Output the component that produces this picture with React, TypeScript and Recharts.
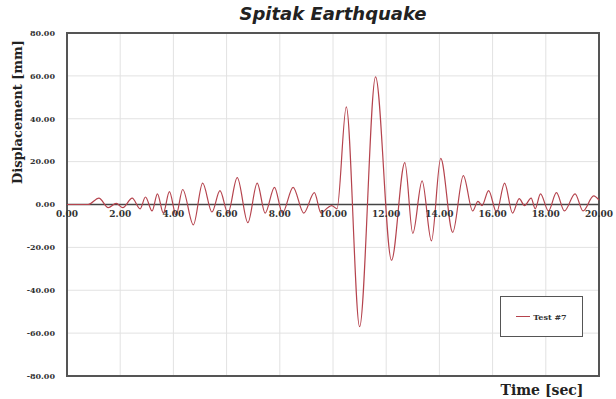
import { LineChart, Line, XAxis, YAxis, CartesianGrid, ReferenceLine, ReferenceArea } from 'recharts';

const TIME = [
  0, 0.8, 1.2, 1.55, 1.85, 2.1, 2.45, 2.75, 2.95, 3.2, 3.4, 3.62, 3.85, 4.1, 4.35, 4.75,
  5.1, 5.45, 5.75, 6.05, 6.4, 6.8, 7.15, 7.45, 7.8, 8.1, 8.5, 8.9, 9.3, 9.55, 9.8, 9.95, 10.15,
  10.5, 11.0, 11.6, 12.2, 12.7, 13.0, 13.35, 13.7, 14.05, 14.5, 14.9, 15.25, 15.45, 15.6,
  15.85, 16.15, 16.45, 16.75, 17.0, 17.2, 17.45, 17.6, 17.8, 18.1, 18.4, 18.7, 19.1, 19.4, 19.8, 20.0,
];
const DISP = [
  0, 0, 3, -1.5, 0.5, -1.5, 3, -2, 3.5, -3, 5, -4, 6, -5, 7, -9.5,
  10, -3.5, 6.5, -4, 12.5, -8.5, 10, -4, 8, -4, 8, -4, 5.5, -4, -1.5, -0.5, -2,
  45.5, -57, 59.5, -26, 19.5, -13.5, 11, -17, 21.5, -13, 13.5, -3, 1.5, -0.5,
  6.5, -3.7, 10, -4, 2.7, -0.5, 3, -2, 5, -3, 5.5, -3, 5, -3, 4, 2,
];
const X_TICKS = [0, 2, 4, 6, 8, 10, 12, 14, 16, 18, 20];
const Y_TICKS = [-80, -60, -40, -20, 0, 20, 40, 60, 80];

const data = TIME.map((t, i) => ({ t, d: DISP[i] }));

const TOP = 33;
const BOTTOM = 23;
const H = 399;
const HALF = (H - TOP - BOTTOM) / 2;
const LINE_COLOR = '#b5434d';

// x labels sit under the zero line, not at the bottom of the box
const XTick = (props: any) => {
  const { x, y, payload } = props;
  return (
    <text x={x} y={y - HALF + 12} textAnchor="middle" fontSize={9} fontWeight="bold"
      fontFamily="'DejaVu Serif', serif" fill="#333">
      {Number(payload.value).toFixed(2)}
    </text>
  );
};

export default function App() {
  return (
    <div style={{ position: 'absolute', left: 0, top: 0, width: 616, height: 399, background: '#fff' }}>
      <LineChart width={616} height={H} data={data} margin={{ top: TOP, right: 17, bottom: 0, left: 0 }}>
        <CartesianGrid stroke="#e2e2e2" strokeWidth={1} />
        <XAxis dataKey="t" type="number" domain={[0, 20]} ticks={X_TICKS} height={BOTTOM}
          axisLine={false} tickLine={false} tickSize={0} tickMargin={0} tick={XTick} interval={0} />
        <YAxis type="number" domain={[-80, 80]} ticks={Y_TICKS} width={67}
          axisLine={false} tickLine={false} tickMargin={6} interval={0}
          tickFormatter={(v: number) => v.toFixed(2)}
          tick={{ fontSize: 8, fontWeight: 'bold', fontFamily: "'DejaVu Serif', serif", fill: '#333' }} />
        <ReferenceLine y={0} stroke="#444" strokeWidth={1.5} />
        <ReferenceArea x1={0} x2={20} y1={-80} y2={80} fill="none" stroke="#555" strokeWidth={2} />
        <Line type="monotone" dataKey="d" name="Test #7" stroke={LINE_COLOR} strokeWidth={1.2} dot={false} isAnimationActive={false} />
      </LineChart>
      <div style={{ position: 'absolute', left: 0, width: 616, top: 3, textAlign: 'center', paddingLeft: 50, boxSizing: 'border-box', fontFamily: "'DejaVu Sans', sans-serif", fontWeight: 'bold', fontStyle: 'italic', fontSize: 18, color: '#222' }}>
        Spitak Earthquake
      </div>
      <div style={{ position: 'absolute', left: 17, top: 112, transform: 'translate(-50%, -50%) rotate(-90deg)', whiteSpace: 'nowrap', fontFamily: "'DejaVu Serif', serif", fontWeight: 'bold', fontSize: 13, color: '#222' }}>
        Displacement [mm]
      </div>
      <div style={{ position: 'absolute', left: 542, top: 390, transform: 'translate(-50%, -50%)', whiteSpace: 'nowrap', fontFamily: "'DejaVu Serif', serif", fontWeight: 'bold', fontSize: 14, color: '#222' }}>
        Time [sec]
      </div>
      <div style={{ position: 'absolute', left: 500, top: 296, width: 81, height: 39, border: '1px solid #555', background: '#fff', display: 'flex', alignItems: 'center', justifyContent: 'center', gap: 3 }}>
        <div style={{ width: 14, height: 1, background: LINE_COLOR }} />
        <span style={{ fontSize: 8, fontWeight: 'bold', fontFamily: "'DejaVu Serif', serif", color: '#333' }}>Test #7</span>
      </div>
    </div>
  );
}
